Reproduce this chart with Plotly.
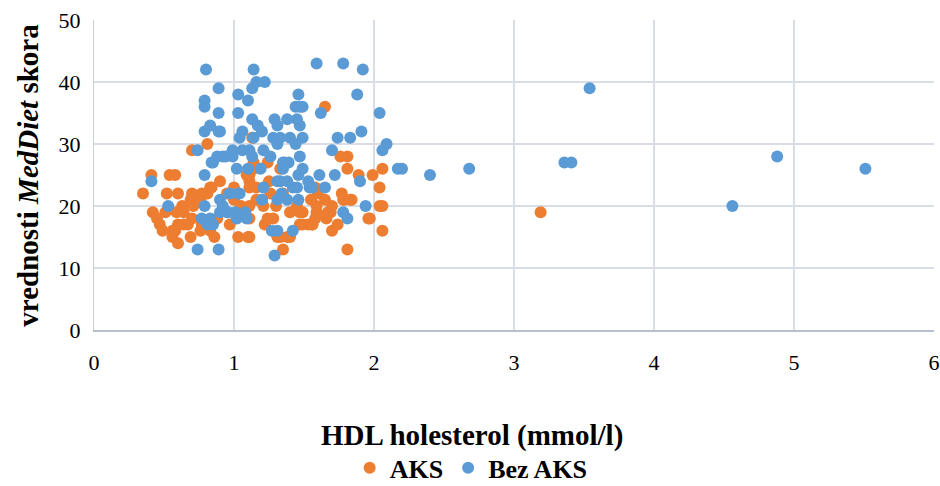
import plotly.graph_objects as go

# HDL cholesterol (mmol/l) and MedDiet score, group with ACS
aks_hdl = [1.65, 0.81, 0.70, 0.41, 0.54, 0.58, 0.35, 0.52, 0.60, 0.70, 0.77, 0.84,
           1.13, 1.24, 1.33, 1.11, 1.16, 1.26, 0.95, 1.76, 1.81, 1.81, 1.89, 1.99,
           2.06, 1.58, 2.04, 1.77, 1.83, 1.11, 1.11, 1.14, 1.79, 1.84, 2.06, 1.96,
           2.06, 1.70, 1.81, 1.35, 1.49, 1.59, 1.69, 1.58, 1.66, 1.74, 1.47, 1.53,
           1.56, 1.31, 1.38, 1.11, 1.11, 1.22, 1.21, 0.42, 0.45, 0.51, 0.59, 0.63,
           0.47, 0.49, 0.69, 0.71, 0.76, 0.64, 0.67, 0.60, 0.56, 0.58, 0.56, 0.60,
           0.69, 0.76, 0.86, 0.88, 0.97, 1.03, 1.10, 0.83, 0.81, 1.11, 1.16, 1.09,
           1.14, 0.64, 0.70, 0.77, 0.83, 1.24, 1.28, 1.47, 1.49, 1.33, 1.40, 1.59,
           1.67, 1.56, 2.04, 1.97, 1.78, 3.19, 1.00, 1.05, 1.20, 1.30, 1.40, 1.35,
           1.45, 1.55, 1.60, 1.65, 1.70, 1.00, 0.90, 1.25]
aks_score = [36, 30, 29, 25, 25, 25, 22, 22, 22, 22, 22, 23,
             31, 27, 26, 24, 23, 22, 22, 28, 28, 26, 25, 25,
             26, 23, 23, 22, 21, 23, 25, 27, 21, 21, 20, 18,
             16, 16, 13, 13, 19, 20, 19, 18, 18, 17, 17, 17,
             17, 15, 15, 15, 18, 17, 20, 19, 18, 19, 19, 20,
             17, 16, 21, 20, 21, 19, 17, 17, 16, 16, 15, 14,
             15, 16, 15, 18, 17, 15, 15, 23, 22, 20, 21, 25,
             26, 17, 18, 17, 16, 18, 18, 19, 17, 15, 15, 19,
             19, 17, 20, 18, 21, 19, 21, 20, 21, 20, 19, 22,
             20, 21, 22, 21, 20, 23, 24, 24]

# Group without ACS
bez_hdl = [0.80, 1.14, 1.59, 1.78, 1.92, 0.89, 0.79, 0.79, 0.89, 0.83, 0.79, 0.89,
           0.74, 0.84, 0.79, 0.41, 1.03, 1.10, 1.03, 1.13, 1.16, 1.22, 0.90, 1.13,
           1.06, 1.04, 1.17, 1.20, 1.29, 1.31, 1.38, 1.45, 1.47, 1.46, 1.47, 1.44,
           1.49, 1.49, 1.44, 1.28, 1.33, 1.40, 1.31, 1.14, 0.99, 0.94, 1.06, 1.13,
           1.21, 1.26, 1.11, 0.88, 0.99, 1.35, 1.39, 1.47, 1.49, 1.02, 1.10, 1.19,
           1.36, 1.35, 1.46, 1.21, 1.31, 1.38, 1.45, 0.97, 1.03, 1.88, 1.62, 2.04,
           1.74, 1.83, 1.91, 2.06, 2.09, 1.70, 1.61, 1.72, 1.90, 1.56, 1.65, 2.17,
           1.53, 1.54, 1.33, 1.34, 1.42, 1.20, 1.31, 1.38, 1.46, 1.94, 1.78, 1.81,
           1.29, 1.27, 1.31, 1.42, 0.85, 0.92, 0.53, 0.79, 0.90, 0.92, 1.04, 0.95,
           1.01, 0.77, 0.81, 0.85, 0.74, 0.89, 0.90, 0.96, 1.02, 1.08, 1.09, 0.83,
           2.20, 2.40, 2.68, 3.36, 3.41, 3.54, 4.88, 5.51, 4.56]
bez_score = [42, 42, 43, 43, 42, 39, 37, 36, 35, 33, 32, 32,
             29, 27, 25, 24, 38, 37, 35, 39, 40, 40, 32, 34,
             32, 31, 33, 32, 34, 33, 34, 34, 33, 38, 36, 36,
             36, 31, 30, 31, 31, 31, 30, 31, 29, 28, 29, 28,
             29, 28, 29, 28, 28, 27, 27, 28, 26, 26, 26, 26,
             27, 26, 25, 23, 24, 24, 23, 22, 22, 38, 35, 35,
             31, 31, 32, 29, 30, 29, 25, 25, 24, 23, 23, 26,
             24, 23, 24, 22, 23, 21, 21, 21, 21, 20, 19, 18,
             12, 16, 16, 16, 27, 28, 20, 20, 21, 20, 22, 19,
             19, 18, 17, 17, 13, 13, 19, 19, 18, 19, 18, 18,
             26, 25, 26, 27, 27, 39, 28, 26, 20]

ORANGE = "#ED7D31"
BLUE = "#5B9BD5"
SERIF = "Liberation Serif, Times New Roman, serif"

fig = go.Figure()
fig.add_trace(go.Scatter(x=aks_hdl, y=aks_score, mode="markers", name="<b>AKS</b>",
                         marker=dict(color=ORANGE, size=12)))
fig.add_trace(go.Scatter(x=bez_hdl, y=bez_score, mode="markers", name="<b>Bez AKS</b>",
                         marker=dict(color=BLUE, size=12)))

grid = "#D9DDE5"
fig.update_layout(
    width=940, height=486,
    margin=dict(l=94, r=6, t=20, b=156, autoexpand=False),
    paper_bgcolor="white", plot_bgcolor="white",
    font=dict(family=SERIF, size=22, color="black"),
    showlegend=True,
    legend=dict(orientation="h", x=0.449, xanchor="center", y=-0.445, yanchor="middle",
                font=dict(family=SERIF, size=26, color="black"),
                itemwidth=30, traceorder="normal", tracegroupgap=0),
    xaxis=dict(range=[0, 6], dtick=1, tick0=0, showgrid=True, gridcolor=grid, gridwidth=2,
               zeroline=False, showline=True, linecolor="#B8C0CE", linewidth=2,
               automargin=False,
               ticks="", tickfont=dict(family=SERIF, size=22), ticklabelstandoff=12),
    yaxis=dict(range=[0, 50], dtick=10, tick0=0, showgrid=True, gridcolor=grid, gridwidth=2,
               zeroline=False, showline=True, linecolor="#C8CEDA", linewidth=1,
               automargin=False,
               ticks="", tickfont=dict(family=SERIF, size=22), ticklabelstandoff=8),
    annotations=[
        dict(text="<b>HDL holesterol (mmol/l)</b>", xref="paper", yref="paper",
             x=0.45, y=-0.339, xanchor="center", yanchor="middle", showarrow=False,
             font=dict(family=SERIF, size=29, color="black")),
        dict(text="<b>vrednosti <i>MedDiet</i> skora</b>", xref="paper", yref="paper",
             x=-0.079, y=0.5, xanchor="center", yanchor="middle", showarrow=False,
             textangle=-90, font=dict(family=SERIF, size=29, color="black")),
    ],
)

fig.write_html("out.html")
